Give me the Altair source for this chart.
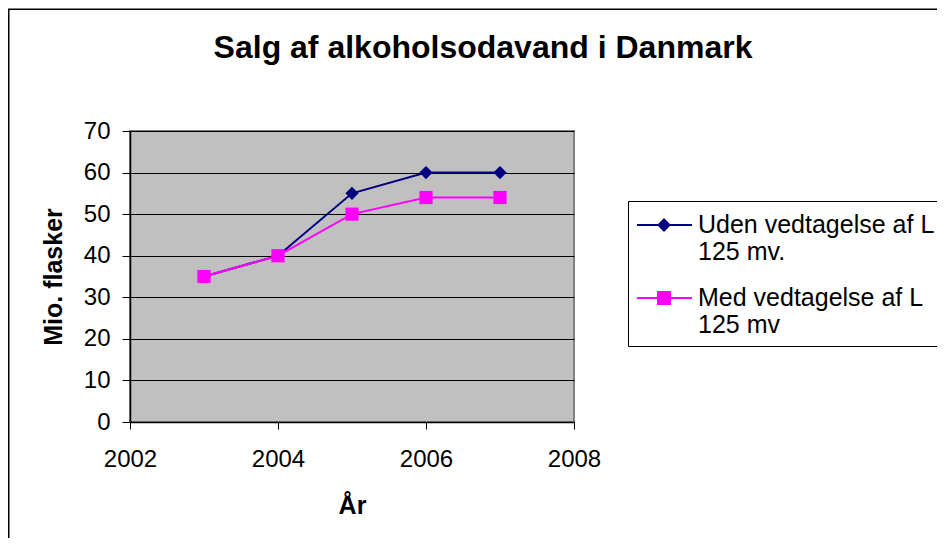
import altair as alt
import pandas as pd

# ---- data ----
years = [2003, 2004, 2005, 2006, 2007]
uden = [35, 40, 55, 60, 60]
med = [35, 40, 50, 54, 54]
series_names = ["Uden vedtagelse af L\n125 mv.", "Med vedtagelse af L\n125 mv"]
series_colors = ["#000080", "#FF00FF"]
series_shapes = ["diamond", "square"]
x_ticks = [2002, 2004, 2006, 2008]
y_ticks = [0, 10, 20, 30, 40, 50, 60, 70]

rows = []
for yr, a, b in zip(years, uden, med):
    rows.append({"year": yr, "value": a, "series": series_names[0]})
    rows.append({"year": yr, "value": b, "series": series_names[1]})
df = pd.DataFrame(rows)

FONT = "Liberation Sans"
W, H = 444, 291

# legend symbols: line with marker (unit = sqrt(symbolSize)/2 = 15 px)
CX = 0.8  # marker centre along the line, in units
D = 0.367
S = 0.4
diamond_path = (f"M-1,0L2.667,0M{CX},{-D}L{CX + D},0L{CX},{D}L{CX - D},0Z")
square_path = (f"M-1,0L2.667,0M{CX - S},{-S}L{CX + S},{-S}L{CX + S},{S}L{CX - S},{S}Z")

x_enc = alt.X(
    "year:Q",
    scale=alt.Scale(domain=[2002, 2008], nice=False, zero=False),
    axis=alt.Axis(values=x_ticks, format="d", title="År", grid=False,
                  tickSize=7, labelPadding=18, labelFontSize=24, labelFlush=False,
                  titleFontSize=25, titleFontWeight="bold",
                  titleX=W / 2, titleY=91, titleBaseline="alphabetic",
                  domainColor="#000000", domainWidth=1.5, tickColor="#000000"),
)
y_enc = alt.Y(
    "value:Q",
    scale=alt.Scale(domain=[0, 70], nice=False),
    axis=alt.Axis(values=y_ticks, title="Mio. flasker", grid=True,
                  gridColor="#000000", gridWidth=1, tickSize=8, labelPadding=12,
                  labelFontSize=24, titleFontSize=25, titleFontWeight="bold",
                  titleX=-64, titleY=H / 2, titleAngle=270, titleBaseline="bottom",
                  domainColor="#000000", domainWidth=1.5, tickColor="#000000"),
)

base = alt.Chart(df)

layers = []
# chart frame (decoration)
frame = alt.Chart(alt.Data(values=[{}])).mark_rect(
    fill=None, stroke="#000000", strokeWidth=1.5
).encode(
    x=alt.value(-121.25), x2=alt.value(900), y=alt.value(-121.75), y2=alt.value(500)
)
layers.append(frame)

for name, col, shp in zip(series_names, series_colors, series_shapes):
    sub = base.transform_filter(alt.datum.series == name)
    layers.append(sub.mark_line(strokeWidth=2, color=col).encode(x=x_enc, y=y_enc))
    layers.append(sub.mark_point(shape=shp, filled=True, size=175, opacity=1, color=col)
                  .encode(x=x_enc, y=y_enc))

legend_def = alt.Legend(
    title=None, orient="none", legendX=498, legendY=70,
    padding=8, strokeColor="#000000", fillColor="#FFFFFF",
    symbolSize=900, symbolStrokeWidth=2, labelFont=FONT, labelFontSize=25,
    labelOffset=30, labelLimit=400, rowPadding=17, labelBaseline="middle",
    labelExpr="split(datum.label, '\\n')",
)
hidden = base.transform_filter("false").mark_point(filled=True, opacity=1, strokeWidth=2).encode(
    x=x_enc, y=y_enc,
    fill=alt.Fill("series:N", scale=alt.Scale(domain=series_names, range=series_colors), legend=legend_def),
    stroke=alt.Stroke("series:N", scale=alt.Scale(domain=series_names, range=series_colors), legend=legend_def),
    shape=alt.Shape("series:N", scale=alt.Scale(domain=series_names, range=[diamond_path, square_path]),
                    legend=legend_def),
)
layers.append(hidden)

chart = alt.layer(*layers).properties(
    width=W, height=H,
    title=alt.TitleParams(text="Salg af alkoholsodavand i Danmark", fontSize=32,
                          font=FONT, fontWeight="bold", anchor="middle", dx=131,
                          offset=-56, color="#000000"),
    autosize=alt.AutoSizeParams(type="none"),
    padding={"left": 122, "top": 123, "right": 363, "bottom": 116},
).configure(
    font=FONT,
    background="#FFFFFF",
).configure_view(
    fill="#C0C0C0", stroke="#808080", strokeWidth=2,
).configure_axis(
    labelFont=FONT, titleFont=FONT, labelColor="#000000", titleColor="#000000",
)

chart.save("out.html", embed_options={"renderer": "svg", "actions": False})
